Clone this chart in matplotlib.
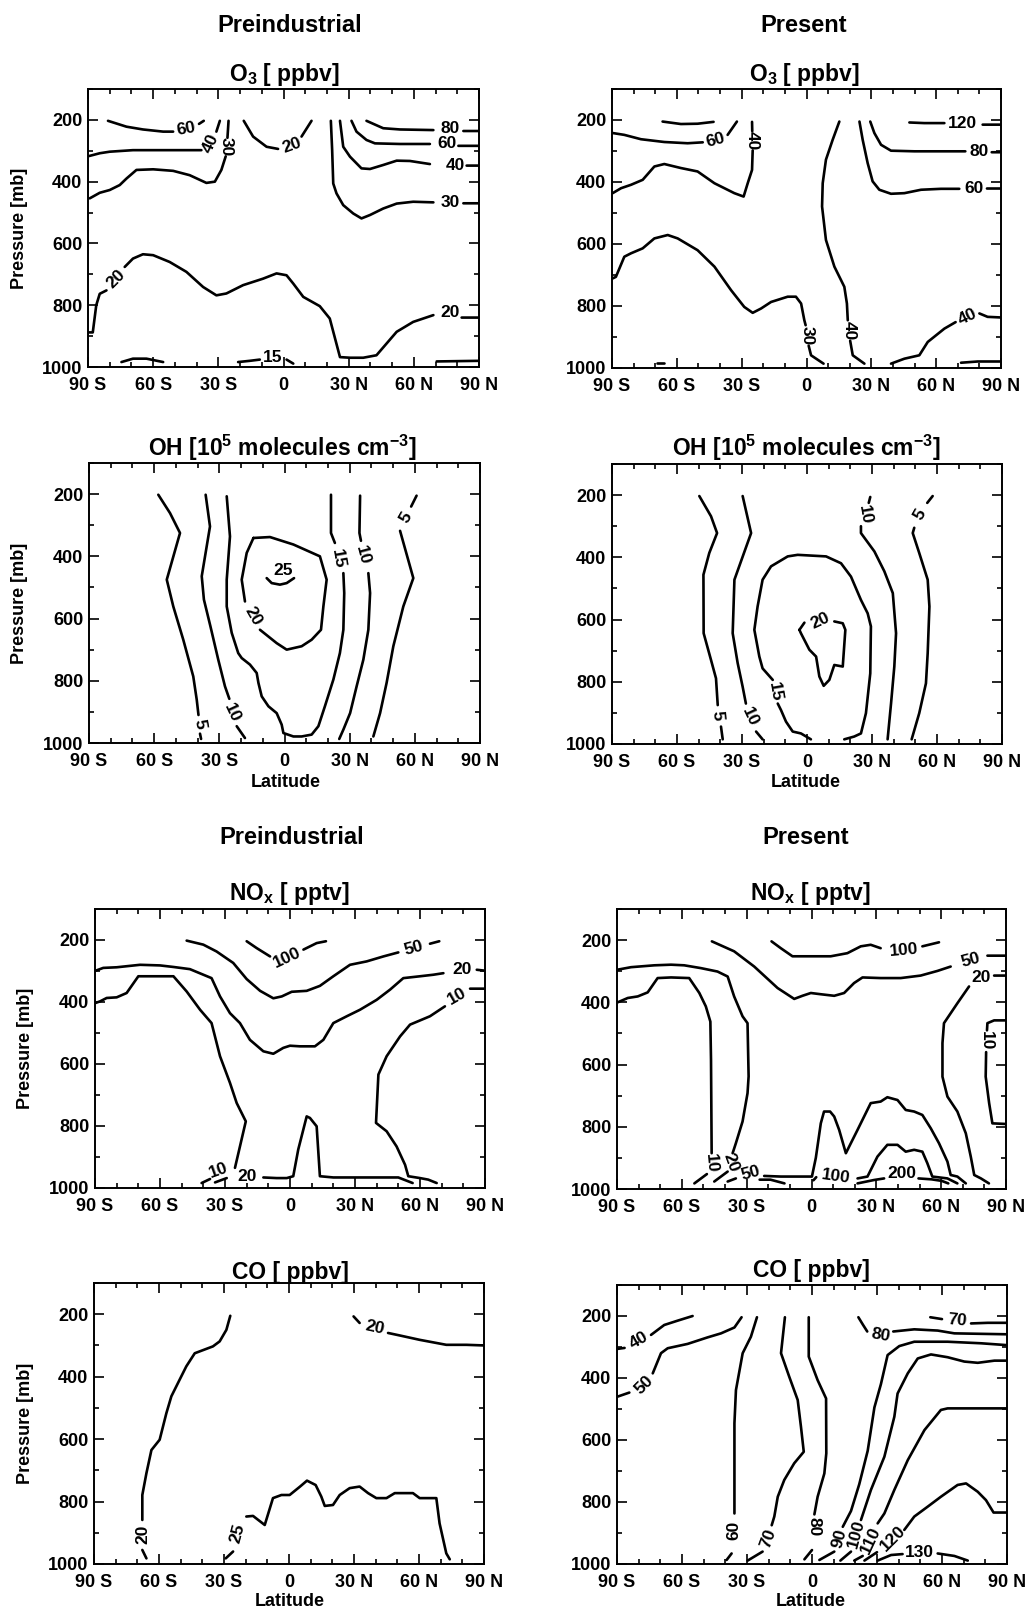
import numpy as np
import matplotlib
matplotlib.use("Agg")
import matplotlib.pyplot as plt

plt.rcParams['font.family'] = ['Liberation Sans', 'DejaVu Sans']
plt.rcParams['font.weight'] = 'bold'
plt.rcParams['mathtext.fontset'] = 'custom'
plt.rcParams['mathtext.rm'] = 'Liberation Sans:bold'
plt.rcParams['mathtext.bf'] = 'Liberation Sans:bold'
plt.rcParams['mathtext.it'] = 'Liberation Sans:bold'
plt.rcParams['mathtext.default'] = 'bf'

G = None  # break in a contour line (gap for a label)

# ---------------------------------------------------------------------------
# contour lines: (latitude, pressure [mb])
# ---------------------------------------------------------------------------
o3_pre_lines = [
    [(-80.8, 203), (-72.3, 222), (-64.7, 231), (-55.4, 238), (-50.8, 238), G, (-38.9, 213), (-36.7, 203)],
    [(-89.5, 317), (-84.6, 308), (-80, 303), (-69.3, 298), (-53.9, 298), (-37.8, 298), G, (-30.9, 238), (-29.3, 203)],
    [(-89.2, 454), (-84.6, 436), (-80, 427), (-75.4, 411), (-72.3, 390), (-67.7, 362), (-60, 360), (-50.8, 365),
     (-43.2, 379), (-35.5, 404), (-31.6, 400), (-28.6, 362), (-26.6, 318), G, (-25.8, 258), (-25.3, 203)],
    [(-18.3, 203), (-14, 254), (-7.8, 287), (-2.5, 294), G, (8.3, 254), (12.9, 203)],
    [(21.8, 203), (22.4, 298), (22.9, 406), (24.4, 438), (27.5, 476), (32.1, 503), (35.9, 519), (39.8, 508),
     (45.9, 487), (52.1, 471), (59.7, 465), (69, 467), G, (82.8, 470), (90, 470)],
    [(26, 203), (27.5, 287), (30.6, 319), (35.9, 357), (39.8, 359), (45.9, 346), (52.1, 332), (58.2, 333),
     (67.4, 343), G, (84.3, 348), (90, 348)],
    [(31.3, 203), (33.6, 238), (38.2, 265), (42.1, 276), (53.6, 278), (67.4, 278), G, (80.5, 284), (90, 284)],
    [(38.2, 203), (45.9, 227), (53.6, 231), (69, 233), G, (82.8, 236), (90, 236)],
    [(-89.5, 888), (-87.8, 888), (-86.2, 800), (-84.6, 763), (-81.5, 752), G, (-73.1, 676), (-69.3, 649),
     (-64.7, 635), (-60, 638), (-52.4, 660), (-44.7, 692), (-37, 741), (-30.9, 768), (-26.3, 762), (-18.6, 735),
     (-9.4, 714), (-3.2, 697), (1.4, 703), (4.5, 730), (9.1, 773), (16.7, 803), (21.3, 843), (26, 968),
     (30.6, 970), (36.7, 970), (42.8, 962), (52.1, 886), (59.7, 854), (69, 832), G, (82, 840), (90, 840)],
    [(-74.6, 984), (-69.3, 973), (-63.1, 973), (-55.4, 984)],
    [(-20.9, 984), (-15.5, 980), (-10.9, 976), G, (1.4, 976), (4.5, 989)],
    [(70.5, 982), (90, 980)],
]
o3_pre_labels = [(-44.7, 228, '60', 10), (-33.6, 276, '40', 65), (-26.3, 288, '30', -90), (4.1, 284, '20', 20),
                 (76.6, 467, '30', 0), (78.9, 348, '40', 0), (75.1, 278, '60', 0), (76.6, 228, '80', 0),
                 (-76.9, 716, '20', 45), (76.6, 822, '20', 0), (-4.8, 970, '15', 0)]

o3_pres_lines = [
    [(-66.6, 205), (-58.1, 213), (-50.4, 212), (-43, 206)],
    [(-89.7, 242), (-84.3, 248), (-76.6, 262), (-65.8, 271), (-55, 275), (-48, 272), G, (-36.5, 248), (-32.2, 205)],
    [(-25.2, 206), (-25.1, 236), G, (-24.9, 298), (-25.2, 361), (-27.2, 404), (-29.1, 447), (-33.4, 436),
     (-42.6, 404), (-50.4, 366), (-58.1, 355), (-65.8, 342), (-70.4, 350), (-75.8, 393), (-81.2, 409),
     (-85.8, 420), (-89.7, 436)],
    [(-89.7, 711), (-88.2, 706), (-84.3, 641), (-81.2, 630), (-75.8, 614), (-70.4, 582), (-64.2, 571),
     (-59.6, 582), (-50.4, 620), (-42.6, 673), (-34.9, 749), (-28.8, 803), (-24.9, 822), (-21, 808),
     (-16.4, 787), (-8.7, 770), (-4.9, 770), (-2.5, 792), (-1, 846), (-0.4, 862), G, (1, 928), (2.1, 959), (7.9, 986)],
    [(15.2, 205), (12.1, 264), (9, 328), (7.5, 404), (7.2, 479), (9, 587), (12.9, 673), (17.5, 738), (18.7, 792),
     (19.1, 846), G, (20.2, 912), (21.4, 959), (26.8, 986)],
    [(24.5, 205), (26, 264), (28.3, 339), (30.6, 398), (33.7, 425), (39.1, 438), (45.3, 436), (53, 425),
     (62.2, 422), (70.7, 422), G, (83.5, 421), (90, 421)],
    [(29.5, 205), (31.4, 242), (34.5, 280), (39.1, 299), (49.9, 301), (65.3, 301), (73.5, 301), G, (85.7, 304), (90, 304)],
    [(47.6, 208), (54.5, 210), (63.8, 210), G, (81.5, 215), (90, 215)],
    [(39.1, 986), (45.3, 970), (52.2, 959), (56.1, 916), (63.8, 873), (69, 852), G, (80, 824), (83.8, 835), (90, 837)],
    [(-69.2, 984), (-66.1, 984)],
    [(71.5, 983), (79.2, 979), (90, 979)],
]
o3_pres_labels = [(-41.9, 264, '60', 15), (-24.9, 267, '40', -90), (0.2, 895, '30', -90), (19.7, 879, '40', -90),
                  (77.3, 420, '60', 0), (79.9, 301, '80', 0), (72.3, 210, '120', 0), (74.6, 835, '40', 25)]

oh_pre_lines = [
    [(-58.1, 202), (-52.7, 261), (-48.1, 325), (-54.2, 475), (-51.2, 561), (-46.6, 668), (-42, 786),
     (-40.4, 861), (-39.6, 910), G, (-38.9, 970), (-38.4, 987)],
    [(-36.3, 202), (-34.3, 304), (-38.1, 464), (-37.1, 539), (-34.1, 625), (-30.5, 732), (-27.4, 818),
     (-25.4, 858), G, (-22, 946), (-18.2, 984)],
    [(-26.6, 207), (-25.1, 336), (-26.6, 475), (-26.6, 561), (-24.3, 646), (-21.3, 711), (-19.7, 727),
     (-15.9, 748), (-12.8, 775), (-12, 807), (-10.5, 850), (-7.4, 882), (-3.6, 904), (-1.3, 941), (-0.5, 968),
     (4.1, 979), (7.9, 979), (12.5, 973), (15.6, 946), (18.6, 882), (22.5, 796), (25.5, 711), (27.1, 636),
     (27.5, 518), (27.1, 454), G, (23.2, 357), (21.4, 325), (21.4, 202)],
    [(-14.3, 341), (-6.7, 338), (4.1, 362), (16.3, 400), (19.4, 475), (17.9, 561), (16.8, 636), (12.5, 668),
     (7.9, 689), (1, 700), (-3.6, 679), (-11.3, 636), G, (-18.2, 545), (-19.7, 475), (-17.4, 389), (-14.3, 341)],
    [(-8.2, 470), (-5.9, 486), (-2.1, 491), (1, 486), (4.4, 470)],
    [(34.8, 205), (34.5, 325), (35.2, 350), G, (38.6, 454), (39.4, 518), (38.6, 636), (36.3, 732), (33.2, 818),
     (30.2, 904), (27.1, 957), (25.2, 987)],
    [(60.8, 205), (58.3, 240), G, (53.2, 318), (59.3, 470), (54.7, 561), (50.1, 689), (47, 807), (44, 904), (40.9, 979)],
]
oh_pre_labels = [(-39.2, 940, '5', -80), (-24.3, 902, '10', -65), (24.8, 408, '15', -80), (-14.5, 592, '20', -60),
                 (-0.5, 445, '25', 0), (36, 397, '10', -75), (55.7, 275, '5', 60)]

oh_pres_lines = [
    [(-49.7, 203), (-44.3, 268), (-41.5, 322), (-45.1, 386), (-47.8, 456), (-47.7, 644), (-44.3, 730),
     (-42, 789), (-41.2, 875), G, (-39.7, 944), (-38.9, 985)],
    [(-29.7, 203), (-25.8, 322), (-33.5, 472), (-34.3, 644), (-32, 740), (-29.7, 816), (-28.2, 870), G,
     (-23.5, 960), (-20.5, 985)],
    [(1.8, 985), (-2.8, 966), (-6.6, 960), (-9.7, 928), (-12, 891), (-13.5, 870), G, (-15.8, 794), (-20.5, 757),
     (-22, 719), (-24.3, 633), (-22.8, 558), (-20.5, 472), (-16.6, 429), (-8.9, 397), (-4.3, 392), (8.8, 397),
     (15.7, 419), (20.3, 462), (24.9, 537), (28, 580), (29.5, 622), (29.2, 773), (27.2, 901), (24.9, 966),
     (21.8, 976), (17.2, 985)],
    [(-3.5, 633), (-1.2, 610), G, (12.6, 606), (16.5, 612), (17.7, 633), (16.5, 751), (12.6, 746), (10.3, 794),
     (7.7, 813), (5.7, 783), (4.2, 719), (1.1, 697), (-2.8, 644), (-3.5, 633)],
    [(29.2, 206), (28.5, 225), G, (24.9, 300), (24.9, 322), (31.1, 381), (35.7, 445), (39.6, 515), (41.1, 644),
     (40.3, 751), (38.8, 869), (37.2, 985)],
    [(58, 203), (55.5, 225), G, (49.5, 305), (48.8, 322), (51.8, 386), (55.7, 472), (56.5, 558), (55.7, 708),
     (54.9, 805), (51.8, 901), (48.3, 985)],
]
oh_pres_labels = [(-41.2, 908, '5', -85), (-26.2, 912, '10', -65), (-14.8, 832, '15', -80), (6.2, 604, '20', 25),
                  (26.6, 263, '10', -80), (52.3, 263, '5', 60)]

nox_pre_lines = [
    [(-89.7, 403), (-87.7, 398), (-84.6, 387), (-80, 385), (-75.4, 371), (-70, 317), (-60, 317), (-53.8, 317),
     (-47.7, 366), (-41.5, 425), (-36.2, 468), (-32.3, 575), (-27.7, 661), (-24.6, 726), (-20.4, 785),
     (-23.1, 866), (-25.4, 935)],
    [(-36.9, 971), (-40.8, 984)],
    [(90, 357), (83.1, 357), G, (71.5, 414), (64.6, 446), (55.4, 473), (50.8, 511), (44.6, 575), (40.8, 634),
     (39.7, 790), (44.6, 817), (49.2, 866), (53.1, 925), (54.6, 962), (60, 968), (63.8, 973), (67.7, 984)],
    [(-89.7, 299), (-86.2, 290), (-80, 288), (-69.2, 280), (-60, 282), (-53.8, 287), (-46.2, 294), (-36.2, 323),
     (-32.3, 382), (-27.7, 436), (-23.1, 468), (-18.5, 522), (-12.3, 559), (-7.7, 567), (-3.1, 548), (0, 541),
     (4.6, 543), (11.5, 543), (15.4, 522), (20, 468), (26.2, 446), (32.3, 425), (40, 393), (46.2, 360),
     (52.3, 323), (60, 317), (66.2, 312), (70.8, 307), G, (86.2, 296), (90, 299)],
    [(-34.6, 982), (-29.2, 968), G, (-12.3, 966), (-6.2, 968), (-1.5, 968), (1.5, 962), (3.8, 876), (7.7, 769),
     (9.2, 774), (12.3, 801), (13.8, 962), (20, 966), (35.4, 966), (50, 966), (56.6, 984)],
    [(-47.7, 202), (-40, 215), (-33.9, 237), (-26.2, 274), (-20, 326), (-13.8, 364), (-7.7, 388), (-3.8, 382),
     (0.8, 367), (7.7, 364), (13.8, 348), (20, 317), (27.7, 280), (35.4, 269), (43.1, 253), (50, 240), G,
     (64.6, 212), (68.9, 204)],
    [(-20, 204), (-15.4, 226), (-9.2, 253), G, (6.2, 231), (12.3, 210), (16.6, 204)],
]
nox_pre_labels = [(-33.1, 943, '10', 20), (77.2, 382, '10', 30), (79.2, 294, '20', 0), (-19.6, 962, '20', 0),
                  (57.2, 226, '50', 15), (-1.5, 256, '100', 25)]

nox_pres_lines = [
    [(-89.7, 295), (-83.5, 287), (-72.7, 281), (-65, 279), (-58.9, 281), (-51.2, 290), (-43.5, 301), (-38.8, 317),
     (-35.8, 381), (-31.9, 445), (-29.6, 467), (-29.1, 638), (-29.6, 692), (-31.9, 783), (-35, 853), (-36.5, 885),
     G, (-38.8, 944), (-45, 976)],
    [(-89.7, 400), (-85, 386), (-80.4, 381), (-75.8, 368), (-71.2, 322), (-65, 320), (-56.6, 322), (-51.9, 370),
     (-48.9, 413), (-46.8, 462), (-46.5, 585), (-46.2, 885), G, (-48.4, 952), (-54.2, 982)],
    [(-46.1, 204), (-35.8, 236), (-26.5, 285), (-15.7, 354), (-8, 389), (-4.2, 379), (-0.3, 370), (4.3, 374),
     (10.5, 379), (15.1, 370), (19.7, 338), (23.6, 320), (32, 322), (41.3, 322), (50.5, 314), (58.3, 299),
     (64.4, 285), G, (81.4, 250), (90, 250)],
    [(90, 314), (84.5, 314), G, (72.9, 349), (67.5, 403), (61.3, 467), (60.6, 531), (60.6, 639), (62.9, 703),
     (67.5, 751), (71.4, 821), (73.7, 896), (75.3, 955), (78.4, 966), (82.1, 982)],
    [(90, 458), (84.5, 458), (81.4, 467), (81.2, 490), G, (80.8, 560), (80.6, 639), (82.2, 724), (83.7, 789), (90, 791)],
    [(-18.5, 204), (-14.2, 226), (-8.8, 252), (-1.9, 252), (8.9, 252), (16.6, 242), (22.8, 220), (27.4, 215),
     (32, 226), G, (51.3, 220), (59, 207)],
    [(-38.8, 976), (-35, 966), G, (-21.9, 958), (-14.2, 960), (-1.9, 960), (0.2, 960), (2, 900), (4.3, 789),
     (5.8, 751), (8.6, 751), (10.5, 767), (12.8, 810), (15.9, 885), (18.2, 853), (21.3, 810), (27.4, 724),
     (32, 719), (35.1, 705), (39.8, 714), (43.6, 746), (47.5, 751), (51.3, 762), (55.2, 805), (59, 853),
     (62.9, 912), (64.4, 955), (67.5, 960), (71.4, 982)],
    [(-24, 970), (-19, 970), (-12.5, 982)],
    [(0.9, 972), (2.2, 962), G, (21.3, 966), (25.9, 960), (30.5, 896), (35.1, 858), (39.8, 858), (43.6, 880),
     (47.5, 874), (51.3, 880), (53.6, 917), (55.9, 960), (62.9, 966), (67.5, 982)],
    [(21.3, 982), (29, 971), (33.6, 966), G, (49.5, 966), (55.6, 969), (60.3, 974), (63.3, 982)],
]
nox_pres_labels = [(-37.3, 915, '20', -70), (-46.5, 917, '10', -85), (73.7, 263, '50', 15), (78.3, 320, '20', 0),
                   (81.1, 524, '10', -90), (42.8, 231, '100', 5), (-28, 950, '50', 15), (11.4, 960, '100', -8),
                   (42, 950, '200', 0)]

co_pre_lines = [
    [(-27.1, 205), (-28.9, 250), (-32, 287), (-35.1, 303), (-43.5, 325), (-47.4, 367), (-50.5, 410), (-54.3, 463),
     (-56.6, 517), (-59.7, 602), (-63.5, 635), (-65.8, 709), (-67.7, 779), (-67.7, 859), G, (-67.7, 955), (-65.8, 982)],
    [(29.8, 207), (32.6, 228), G, (45.7, 260), (51.1, 268), (60.3, 282), (72.6, 298), (81.9, 298), (90, 300)],
    [(-29.2, 982), (-25.8, 960), G, (-19.7, 848), (-16.6, 846), (-11.2, 875), (-7.4, 789), (-3.5, 779), (0.3, 779),
     (5.1, 752), (8.3, 733), (12.3, 747), (14.9, 784), (16.5, 814), (20.3, 811), (23.4, 779), (28, 757),
     (32.6, 752), (36.5, 773), (40.3, 789), (45, 789), (48.8, 773), (57.2, 773), (60.3, 789), (68, 789),
     (69.5, 870), (72.6, 966), (74.2, 985)],
]
co_pre_labels = [(-67.4, 905, '20', 90), (39.5, 244, '20', -12), (-23.8, 902, '25', 75)]

co_pres_lines = [
    [(-89.7, 306), (-86.5, 303), G, (-74.3, 261), (-68.2, 229), (-62, 215), (-55.1, 200)],
    [(-89.7, 460), (-84.3, 447), G, (-73.5, 385), (-69.7, 320), (-66.6, 304), (-57.4, 290), (-48.2, 269),
     (-42, 256), (-35.8, 237), (-32.5, 204)],
    [(-25.4, 204), (-28.2, 267), (-32, 320), (-35.1, 439), (-35.8, 546), (-35.8, 837), G, (-37.1, 966), (-39.4, 987)],
    [(-12.5, 204), (-14.3, 320), (-10.5, 396), (-6.6, 471), (-5.1, 557), (-3.8, 638), (-8.2, 675), (-12.8, 729),
     (-15.8, 783), (-17.4, 847), (-18.6, 875), G, (-22.8, 960), (-29.7, 989)],
    [(-1.5, 204), (-1.5, 331), (2.6, 407), (6.5, 466), (6.6, 643), (5.7, 708), (2.6, 783), (1.1, 840), G,
     (0, 955), (-3.5, 985)],
    [(3.4, 987), (10.3, 960), G, (14.2, 880), (18, 829), (21.8, 743), (25.7, 635), (28.8, 495), (31.8, 420),
     (34.9, 326), (40.3, 297), (47.2, 283), (62.6, 283), (78, 288), (90, 294)],
    [(13.1, 989), (18, 960), G, (22.6, 858), (27.2, 761), (33.4, 654), (38, 525), (39.5, 450), (44.2, 385),
     (48.8, 337), (54.9, 324), (62.6, 333), (70.3, 347), (76.5, 351), (84.2, 344), (90, 344)],
    [(19.5, 989), (23.4, 974), G, (30.3, 869), (33.4, 837), (38, 761), (44.2, 665), (51.9, 568), (59.5, 503),
     (62.6, 498), (78, 498), (90, 498)],
    [(24.2, 989), (30, 962), G, (42.6, 890), (47.2, 847), (53.4, 815), (59.5, 783), (67.2, 745), (71.1, 740),
     (76.5, 767), (80.3, 794), (83.8, 834), (90, 834)],
    [(30.3, 989), (36.5, 971), (41.8, 968), G, (58, 966), (65.7, 974), (71.9, 989)],
    [(21.4, 204), (23.5, 228), (25.5, 250), G, (37.5, 250), (47.2, 243), (58, 247), (65.7, 256), (90, 259)],
    [(54.6, 204), (60, 210), G, (73.4, 224), (81.1, 222), (90, 222)],
]
co_pres_labels = [(-79.7, 277, '40', 30), (-77.4, 423, '50', 45), (-36.2, 890, '60', 90), (-20.2, 917, '70', 70),
                  (0.8, 880, '80', -90), (12.6, 917, '90', 75), (20.3, 903, '100', 75), (26.9, 925, '110', 65),
                  (37.2, 919, '120', 45), (49.5, 962, '130', 0), (31.8, 262, '80', -10), (67.2, 213, '70', -5)]

lat_ticks = [-90, -60, -30, 0, 30, 60, 90]
lat_labels = ['90 S', '60 S', '30 S', '0', '30 N', '60 N', '90 N']
p_ticks = [200, 400, 600, 800, 1000]

W, H = 1028, 1612
fig = plt.figure(figsize=(W / 100, H / 100), dpi=100)


def add_panel(l, r, t, b, lines, labels):
    ax = fig.add_axes([l / W, 1 - b / H, (r - l) / W, (b - t) / H])
    for ln in lines:
        pts = np.array([(np.nan, np.nan) if q is None else q for q in ln], dtype=float)
        ax.plot(pts[:, 0], pts[:, 1], color='black', lw=1.9, solid_joinstyle='round', solid_capstyle='round')
    for lat, p, s, rot in labels:
        ax.text(lat, p, s, rotation=rot, ha='center', va='center', fontsize=12.5,
                fontweight='bold', rotation_mode='anchor')
    ax.set_xlim(-90, 90)
    ax.set_ylim(1000, 100)
    ax.set_xticks(lat_ticks)
    ax.set_xticklabels(lat_labels)
    ax.set_xticks(np.arange(-90, 91, 10), minor=True)
    ax.set_yticks(p_ticks)
    ax.set_yticks(np.arange(100, 1001, 100), minor=True)
    ax.tick_params(which='both', direction='in', top=True, right=True, width=1.2, labelsize=13)
    ax.tick_params(which='major', length=7.5)
    ax.tick_params(which='minor', length=3.8)
    ax.tick_params(axis='x', pad=7)
    ax.tick_params(axis='y', pad=4)
    for sp in ax.spines.values():
        sp.set_linewidth(1.4)
    return ax


add_panel(88, 479, 89, 367, o3_pre_lines, o3_pre_labels)
add_panel(612, 1001, 89, 368, o3_pres_lines, o3_pres_labels)
add_panel(89, 480, 463, 743, oh_pre_lines, oh_pre_labels)
add_panel(612, 1002, 464, 744, oh_pres_lines, oh_pres_labels)
add_panel(95, 485, 909, 1188, nox_pre_lines, nox_pre_labels)
add_panel(617, 1006, 909, 1189, nox_pres_lines, nox_pres_labels)
add_panel(94, 484, 1283, 1564, co_pre_lines, co_pre_labels)
add_panel(617, 1007, 1285, 1564, co_pres_lines, co_pres_labels)


def ftext(x, y, s, size, **kw):
    fig.text(x / W, 1 - y / H, s, ha='center', va='center', fontsize=size, fontweight='bold', **kw)


ftext(290, 25, 'Preindustrial', 17)
ftext(804, 25, 'Present', 17)
ftext(292, 838, 'Preindustrial', 17)
ftext(806, 838, 'Present', 17)

ftext(284, 75, r'O$_3$ [ ppbv]', 16.5)
ftext(804, 75, r'O$_3$ [ ppbv]', 16.5)
ftext(282, 448, r'OH [10$^5$ molecules cm$^{-3}$]', 16.5)
ftext(806, 448, r'OH [10$^5$ molecules cm$^{-3}$]', 16.5)
ftext(290, 893, r'NO$_x$ [ pptv]', 16.5)
ftext(811, 893, r'NO$_x$ [ pptv]', 16.5)
ftext(290, 1272, 'CO [ ppbv]', 16.5)
ftext(811, 1270, 'CO [ ppbv]', 16.5)

ftext(20, 228, 'Pressure [mb]', 13, rotation=90)
ftext(20, 603, 'Pressure [mb]', 13, rotation=90)
ftext(25, 1048, 'Pressure [mb]', 13, rotation=90)
ftext(25, 1423, 'Pressure [mb]', 13, rotation=90)

ftext(286, 782, 'Latitude', 13)
ftext(806, 782, 'Latitude', 13)
ftext(290, 1601, 'Latitude', 13)
ftext(811, 1601, 'Latitude', 13)

fig.savefig('out.png', dpi=100)
